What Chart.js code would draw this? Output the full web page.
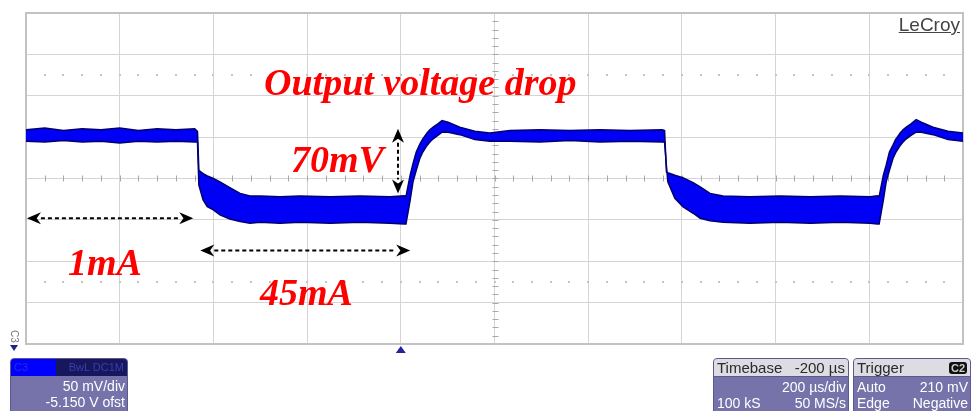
<!DOCTYPE html>
<html>
<head>
<meta charset="utf-8">
<script src="https://cdn.jsdelivr.net/npm/chart.js@4.4.1/dist/chart.umd.min.js"></script>
<style>
  html, body { margin: 0; padding: 0; background: #fff; overflow: hidden; }
  #wrap { position: relative; width: 972px; height: 411px; }
  #scope { position: absolute; left: 0; top: 0; }
  .anno { position: absolute; font-family: "Liberation Serif", "Times New Roman", serif; font-weight: bold;
          font-style: italic; color: #ff0000; font-size: 38px; line-height: 1; white-space: nowrap; }
  .brand { position: absolute; right: 12px; top: 15px; font-family: "Liberation Sans", Arial, sans-serif;
           font-size: 19px; line-height: 1; color: #444; text-decoration: underline; }
  .box { position: absolute; top: 358px; height: 60px; background: #7672aa; border: 1px solid #5c5890;
         border-radius: 4px; font-family: "Liberation Sans", Arial, sans-serif; color: #fff; overflow: hidden; }
  .box .hd { height: 17px; display: flex; justify-content: space-between; align-items: center;
             padding: 0 3px; font-size: 15px; color: #2a2a2a; background: #dcdce2; border-bottom: 1px solid #5c5890; }
  .box .row { height: 16px; display: flex; justify-content: space-between; align-items: center;
              padding: 0 2px 0 3px; font-size: 14px; line-height: 1; }
  .badge { background: #111; color: #ccc; border-radius: 3px; font-size: 11px; padding: 0 2px; font-weight: bold; }
  .chhd { height: 17px; display: flex; font-size: 11px; line-height: 17px; }
  .chhd .a { width: 42px; background: #0000ff; color: #2a2ad8; padding-left: 3px; }
  .chhd .b { flex: 1; background: #17175e; color: #3c3cae; text-align: right; padding-right: 3px; }
  .gnd { position: absolute; left: 8px; top: 331px; font-family: "Liberation Sans", Arial, sans-serif;
         font-size: 10px; color: #777; transform: rotate(90deg); transform-origin: center; }
  .gnd-arrow { position: absolute; left: 10px; top: 345px; width: 0; height: 0;
               border-left: 4px solid transparent; border-right: 4px solid transparent; border-top: 6px solid #22228a; }
</style>
</head>
<body>
<div id="wrap">
  <canvas id="scope" width="972" height="411"></canvas>

  <div class="anno" style="left:264px; top:63px;">Output voltage drop</div>
  <div class="anno" style="left:291px; top:140px;">70mV</div>
  <div class="anno" style="left:68px; top:243px;">1mA</div>
  <div class="anno" style="left:260px; top:273px;">45mA</div>
  <div class="brand">LeCroy</div>

  <div class="gnd">C3</div>
  <div class="gnd-arrow"></div>

  <div class="box" style="left:10px; width:116px;">
    <div class="chhd"><span class="a">C3</span><span class="b">BwL DC1M</span></div>
    <div class="row" style="justify-content:flex-end; margin-top:2px;">50 mV/div</div>
    <div class="row" style="justify-content:flex-end;">-5.150 V ofst</div>
  </div>

  <div class="box" style="left:713px; width:134px;">
    <div class="hd"><span>Timebase</span><span>-200 µs</span></div>
    <div class="row" style="justify-content:flex-end; margin-top:2px;">200 µs/div</div>
    <div class="row"><span>100 kS</span><span>50 MS/s</span></div>
  </div>

  <div class="box" style="left:853px; width:116px;">
    <div class="hd"><span>Trigger</span><span class="badge">C2</span></div>
    <div class="row" style="margin-top:2px;"><span>Auto</span><span>210 mV</span></div>
    <div class="row"><span>Edge</span><span>Negative</span></div>
  </div>
</div>

<script>
// time in µs relative to trigger, voltage in V (50 mV/div, 5.150 V centre)
const timeUs = [-800, -760, -720, -680, -640, -600, -560, -520, -480, -440,
  -434, -431, -422, -413, -400, -386, -365, -343, -322,
  -300, -258, -215, -151, -87, -23, 7,
  11, 20, 26, 33, 41, 46, 56, 62, 69, 79, 88, 101, 126, 158, 190,
  233, 297, 361, 425, 489, 558,
  563, 567, 570, 585, 602, 624, 639, 660, 688,
  745, 810, 874, 938, 1002, 1017,
  1021, 1030, 1036, 1043, 1051, 1056, 1066, 1072, 1079, 1089, 1100, 1111, 1136, 1168, 1200];

// upper edge of the noisy trace
const upperV = [5.209, 5.211, 5.208, 5.210, 5.209, 5.211, 5.208, 5.210, 5.209, 5.210,
  5.207, 5.160, 5.156, 5.153, 5.150, 5.146, 5.139, 5.132, 5.129,
  5.129, 5.128, 5.129, 5.128, 5.129, 5.128, 5.129,
  5.128, 5.154, 5.168, 5.182, 5.192, 5.197, 5.205, 5.209, 5.212, 5.216, 5.220, 5.218, 5.212, 5.207, 5.205,
  5.208, 5.209, 5.208, 5.209, 5.208, 5.209,
  5.208, 5.158, 5.157, 5.154, 5.151, 5.145, 5.140, 5.132, 5.129,
  5.128, 5.129, 5.128, 5.129, 5.128, 5.129,
  5.128, 5.154, 5.166, 5.182, 5.191, 5.197, 5.205, 5.209, 5.212, 5.216, 5.221, 5.218, 5.212, 5.207, 5.205];

// lower edge of the noisy trace
const lowerV = [5.195, 5.194, 5.196, 5.194, 5.195, 5.193, 5.195, 5.194, 5.195, 5.194,
  5.194, 5.142, 5.124, 5.116, 5.112, 5.106, 5.101, 5.098, 5.096,
  5.097, 5.096, 5.097, 5.096, 5.097, 5.096, 5.095,
  5.095, 5.124, 5.146, 5.160, 5.175, 5.181, 5.190, 5.194, 5.198, 5.202, 5.206, 5.206, 5.203, 5.197, 5.195,
  5.195, 5.194, 5.196, 5.194, 5.195, 5.194,
  5.194, 5.165, 5.146, 5.126, 5.116, 5.108, 5.102, 5.099, 5.097,
  5.096, 5.097, 5.096, 5.097, 5.096, 5.095,
  5.095, 5.124, 5.146, 5.160, 5.175, 5.181, 5.190, 5.194, 5.198, 5.202, 5.206, 5.206, 5.203, 5.197, 5.195];

const dotRows = [5.275, 5.025];

const toPts = vs => timeUs.map((t, i) => ({ x: t, y: vs[i] }));

function dashedArrow(ctx, x1, y1, x2, y2) {
  const ang = Math.atan2(y2 - y1, x2 - x1), L = 14, W = 6;
  const cos = Math.cos(ang), sin = Math.sin(ang);
  ctx.save();
  ctx.strokeStyle = '#000'; ctx.fillStyle = '#000';
  ctx.lineWidth = 2; ctx.setLineDash([4, 3]);
  ctx.beginPath();
  ctx.moveTo(x1 + cos * L, y1 + sin * L);
  ctx.lineTo(x2 - cos * L, y2 - sin * L);
  ctx.stroke();
  ctx.setLineDash([]);
  const head = (px, py, dir) => {
    ctx.beginPath();
    ctx.moveTo(px, py);
    ctx.lineTo(px - dir * cos * L - sin * W, py - dir * sin * L + cos * W);
    ctx.lineTo(px - dir * cos * L * 0.7, py - dir * sin * L * 0.7);
    ctx.lineTo(px - dir * cos * L + sin * W, py - dir * sin * L - cos * W);
    ctx.closePath();
    ctx.fill();
  };
  head(x2, y2, 1);
  head(x1, y1, -1);
  ctx.restore();
}

const scopeDecor = {
  id: 'scopeDecor',
  beforeDatasetsDraw(chart) {
    const { ctx, chartArea: a, scales: { x, y } } = chart;
    ctx.save();
    // dotted rows
    ctx.fillStyle = '#c4c4c4';
    dotRows.forEach(v => {
      const py = Math.round(y.getPixelForValue(v));
      for (let t = -760; t < 1200; t += 40) ctx.fillRect(Math.round(x.getPixelForValue(t)) - 1, py - 1, 2, 2);
    });
    // minor ticks on the centre cross
    ctx.strokeStyle = '#a8a8a8'; ctx.lineWidth = 1;
    const cx = Math.round(x.getPixelForValue(200)) + 0.5, cy = Math.round(y.getPixelForValue(5.15)) + 0.5;
    ctx.beginPath();
    for (let t = -760; t < 1200; t += 40) {
      const px = Math.round(x.getPixelForValue(t)) + 0.5;
      ctx.moveTo(px, cy - 3); ctx.lineTo(px, cy + 3);
    }
    for (let k = 1; k < 40; k++) {
      const py = Math.round(y.getPixelForValue(4.95 + k * 0.01)) + 0.5;
      ctx.moveTo(cx - 3, py); ctx.lineTo(cx + 3, py);
    }
    ctx.stroke();
    // frame
    ctx.strokeStyle = '#c2c2c2'; ctx.lineWidth = 2;
    ctx.strokeRect(a.left, a.top, a.width, a.height);
    ctx.restore();
  },
  afterDatasetsDraw(chart) {
    const { ctx, chartArea: a, scales: { x, y } } = chart;
    dashedArrow(ctx, x.getPixelForValue(-798), y.getPixelForValue(5.102), x.getPixelForValue(-443), y.getPixelForValue(5.102));
    dashedArrow(ctx, x.getPixelForValue(-428), y.getPixelForValue(5.063), x.getPixelForValue(20), y.getPixelForValue(5.063));
    dashedArrow(ctx, x.getPixelForValue(-6), y.getPixelForValue(5.210), x.getPixelForValue(-6), y.getPixelForValue(5.132));
    // trigger position marker
    const tx = x.getPixelForValue(0);
    ctx.save();
    ctx.fillStyle = '#23239a';
    ctx.beginPath();
    ctx.moveTo(tx, a.bottom + 2); ctx.lineTo(tx + 5, a.bottom + 9); ctx.lineTo(tx - 5, a.bottom + 9);
    ctx.closePath(); ctx.fill();
    ctx.restore();
  }
};

const gridOpts = { color: '#d4d4d4', lineWidth: 1, drawTicks: false };

new Chart(document.getElementById('scope'), {
  type: 'line',
  data: {
    datasets: [
      { data: toPts(upperV), borderColor: '#000070', borderWidth: 1.5, pointRadius: 0, tension: 0, fill: false },
      { data: toPts(lowerV), borderColor: '#000070', borderWidth: 1.5, pointRadius: 0, tension: 0,
        fill: '-1', backgroundColor: '#0000f4' }
    ]
  },
  options: {
    responsive: false, animation: false, devicePixelRatio: 1,
    layout: { padding: { left: 26, right: 9, top: 13, bottom: 67 } },
    plugins: { legend: { display: false }, tooltip: { enabled: false } },
    scales: {
      x: { type: 'linear', min: -800, max: 1200, ticks: { display: false, stepSize: 200 },
           grid: gridOpts, border: { display: false }, afterFit: s => { s.height = 0; } },
      y: { type: 'linear', min: 4.95, max: 5.35, ticks: { display: false, stepSize: 0.05 },
           grid: gridOpts, border: { display: false }, afterFit: s => { s.width = 0; } }
    }
  },
  plugins: [scopeDecor]
});
</script>
</body>
</html>
